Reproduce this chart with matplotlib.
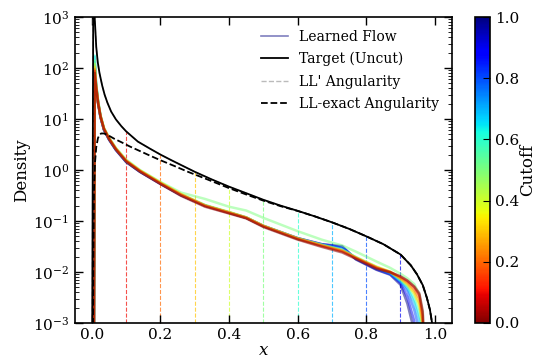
import numpy as np
import matplotlib
matplotlib.use("Agg")
import matplotlib.pyplot as plt
from matplotlib.colors import Normalize
from matplotlib.cm import ScalarMappable

plt.rcParams["font.family"] = ["DejaVu Serif"]
plt.rcParams["mathtext.fontset"] = "dejavuserif"

# ---- target (uncut) density ----
target_x = [0.0, 0.004, 0.008, 0.0126, 0.017, 0.022, 0.03, 0.037, 0.045, 0.056,
            0.07, 0.086, 0.1, 0.134, 0.17, 0.2, 0.232, 0.26, 0.3, 0.35,
            0.4, 0.45, 0.5, 0.55, 0.6, 0.65, 0.7, 0.75, 0.8, 0.85,
            0.9, 0.93, 0.948, 0.965, 0.977, 0.986, 0.992, 0.998]
target_y = [1e-5, 3000, 1000, 260, 130, 80, 45, 30, 21, 14,
            9.8, 7.2, 5.7, 3.6, 2.6, 2.0, 1.55, 1.25, 0.92, 0.65,
            0.47, 0.35, 0.26, 0.2, 0.158, 0.123, 0.094, 0.07, 0.05, 0.035,
            0.022, 0.0135, 0.009, 0.0055, 0.0031, 0.0018, 0.001, 0.0003]

# ---- LL-exact angularity ----
exact_x = [0.002, 0.004, 0.006, 0.009, 0.0126, 0.0175, 0.022, 0.027, 0.035, 0.047,
           0.065, 0.086, 0.11, 0.134, 0.17, 0.2, 0.24, 0.28, 0.33, 0.4,
           0.45, 0.5, 0.55, 0.6, 0.65, 0.7, 0.75, 0.8, 0.85, 0.9,
           0.93, 0.948, 0.965, 0.977, 0.986, 0.992, 0.998]
exact_y = [1e-5, 0.02, 0.4, 1.4, 2.8, 4.2, 4.9, 5.2, 5.2, 4.8,
           4.1, 3.5, 2.9, 2.45, 1.9, 1.55, 1.2, 0.92, 0.68, 0.44,
           0.33, 0.25, 0.195, 0.157, 0.123, 0.094, 0.07, 0.05, 0.035, 0.022,
           0.0135, 0.009, 0.0055, 0.0031, 0.0018, 0.001, 0.0003]

# ---- learned flows, one per cutoff ----
flow_x = [0.005, 0.008, 0.012, 0.018, 0.025, 0.035, 0.05, 0.07, 0.1, 0.14,
          0.2, 0.26, 0.33, 0.4, 0.45, 0.5, 0.6, 0.67, 0.73, 0.77,
          0.83, 0.87, 0.9, 0.92, 0.94, 0.955, 0.965, 0.975]
cutoffs = [1.0, 0.9, 0.8, 0.7, 0.6, 0.5, 0.4, 0.3, 0.2, 0.1, 0.0]
flow_y = {
    1.0: [1e-5, 100, 44, 20, 10.8, 6.1, 3.9, 2.45, 1.42, 0.92, 0.53, 0.32, 0.2, 0.147,
          0.117, 0.080, 0.046, 0.035, 0.032, 0.0175, 0.011, 0.0088, 0.0056, 0.0024,
          0.0007, 1e-5, 1e-5, 1e-5],
    0.9: [1e-5, 115, 45, 21, 11, 6.2, 4.0, 2.5, 1.45, 0.93, 0.54, 0.32, 0.2, 0.146,
          0.116, 0.080, 0.046, 0.035, 0.031, 0.018, 0.0112, 0.0090, 0.0060, 0.0032,
          0.0011, 1e-5, 1e-5, 1e-5],
    0.8: [1e-5, 130, 47, 21, 11, 6.2, 4.0, 2.5, 1.45, 0.93, 0.54, 0.32, 0.2, 0.145,
          0.115, 0.079, 0.045, 0.034, 0.030, 0.018, 0.0115, 0.0092, 0.0064, 0.0042,
          0.0018, 0.0007, 1e-5, 1e-5],
    0.7: [1e-5, 165, 50, 22, 11.4, 6.4, 4.1, 2.55, 1.48, 0.95, 0.55, 0.325, 0.2, 0.145,
          0.115, 0.079, 0.045, 0.034, 0.028, 0.019, 0.012, 0.0095, 0.0066, 0.0048,
          0.0025, 0.0011, 1e-5, 1e-5],
    0.6: [1e-5, 175, 52, 22, 11.5, 6.5, 4.2, 2.6, 1.5, 0.97, 0.56, 0.33, 0.205, 0.148,
          0.117, 0.080, 0.045, 0.034, 0.027, 0.0195, 0.0125, 0.0098, 0.0068, 0.0052,
          0.0030, 0.0015, 0.0007, 1e-5],
    0.5: [1e-5, 140, 50, 23, 12, 6.8, 4.3, 2.7, 1.6, 1.0, 0.58, 0.36, 0.27, 0.19,
          0.16, 0.115, 0.063, 0.043, 0.033, 0.025, 0.016, 0.012, 0.0092, 0.0075,
          0.0058, 0.0036, 0.0015, 1e-5],
    0.4: [1e-5, 120, 48, 22, 11.6, 6.6, 4.2, 2.65, 1.55, 0.98, 0.57, 0.34, 0.205, 0.15,
          0.118, 0.081, 0.046, 0.034, 0.027, 0.0195, 0.0127, 0.0102, 0.0072, 0.0055,
          0.0037, 0.0021, 0.0008, 1e-5],
    0.3: [1e-5, 105, 46, 21, 11.3, 6.5, 4.2, 2.6, 1.52, 0.97, 0.56, 0.33, 0.20, 0.148,
          0.117, 0.080, 0.045, 0.033, 0.026, 0.019, 0.0125, 0.0100, 0.0074, 0.0058,
          0.0040, 0.0024, 0.0009, 1e-5],
    0.2: [1e-5, 95, 45, 21, 11.2, 6.4, 4.1, 2.6, 1.5, 0.96, 0.55, 0.33, 0.20, 0.145,
          0.115, 0.079, 0.045, 0.033, 0.026, 0.019, 0.0122, 0.0098, 0.0076, 0.0062,
          0.0045, 0.0030, 0.0011, 1e-5],
    0.1: [1e-5, 88, 44, 21, 11.5, 6.5, 4.1, 2.55, 1.5, 0.95, 0.54, 0.32, 0.195, 0.142,
          0.114, 0.078, 0.044, 0.032, 0.025, 0.0185, 0.012, 0.0100, 0.0080, 0.0066,
          0.0050, 0.0035, 0.0014, 1e-5],
    0.0: [1e-5, 80, 42, 20, 11, 6.3, 4.0, 2.5, 1.45, 0.92, 0.53, 0.31, 0.19, 0.14,
          0.112, 0.076, 0.043, 0.031, 0.024, 0.018, 0.0115, 0.0098, 0.0082, 0.0068,
          0.0052, 0.0038, 0.0017, 1e-5],
}
cut_lines = [0.1, 0.2, 0.3, 0.4, 0.5, 0.6, 0.7, 0.8, 0.9]

cmap = plt.get_cmap("jet_r")
norm = Normalize(vmin=0.0, vmax=1.0)

fig = plt.figure(figsize=(5.38, 3.62), dpi=100)
ax = fig.add_axes([0.139, 0.108, 0.701, 0.845])
cax = fig.add_axes([0.883, 0.108, 0.028, 0.845])

# flows, high cutoff first so the low-cutoff curves sit on top
for i, c in enumerate(cutoffs):
    ax.plot(flow_x, flow_y[c], color=cmap(norm(c)), alpha=0.5, lw=1.8,
            label="Learned Flow" if i == 0 else None, zorder=2)

ax.plot(target_x, target_y, color="#bbbbbb", ls="--", lw=1.0,
        label="LL' Angularity", zorder=2.5)
ax.plot(target_x, target_y, color="black", lw=1.3, label="Target (Uncut)", zorder=3)
ax.plot(exact_x, exact_y, color="black", ls="--", lw=1.3,
        label="LL-exact Angularity", zorder=3)

# cutoff markers from the bottom of the axis up to the target density
log_t = np.log10(target_y)
for c in cut_lines:
    top = 10 ** np.interp(c, target_x, log_t)
    ax.vlines(c, 1e-3, top, colors=[cmap(norm(c))], linestyles="--",
              lw=0.8, alpha=0.7, zorder=1)

ax.set_yscale("log")
ax.set_xlim(-0.05, 1.05)
ax.set_ylim(1e-3, 1e3)
ax.set_xticks([0.0, 0.2, 0.4, 0.6, 0.8, 1.0])
ax.set_xlabel("$x$", fontsize=12, labelpad=0)
ax.set_ylabel("Density", fontsize=12, labelpad=2)
ax.tick_params(which="both", direction="in", top=True, right=True, labelsize=11)
ax.tick_params(which="major", length=6, width=1.0, pad=4)
ax.tick_params(which="minor", length=3, width=0.6)
for s in ax.spines.values():
    s.set_linewidth(1.2)

handles, labels = ax.get_legend_handles_labels()
order = ["Learned Flow", "Target (Uncut)", "LL' Angularity", "LL-exact Angularity"]
hmap = dict(zip(labels, handles))
leg = ax.legend([hmap[k] for k in order], order, loc="upper right", frameon=False,
                fontsize=10, handlelength=2.0, borderaxespad=0.5, labelspacing=0.6)
leg.get_lines()[0].set_linewidth(1.2)

sm = ScalarMappable(norm=norm, cmap=cmap)
cb = fig.colorbar(sm, cax=cax)
cb.set_label("Cutoff", fontsize=12, labelpad=0)
cb.set_ticks([0.0, 0.2, 0.4, 0.6, 0.8, 1.0])
cb.ax.tick_params(direction="in", length=5, labelsize=11)
cb.outline.set_linewidth(1.2)

fig.savefig("out.png", dpi=100)
